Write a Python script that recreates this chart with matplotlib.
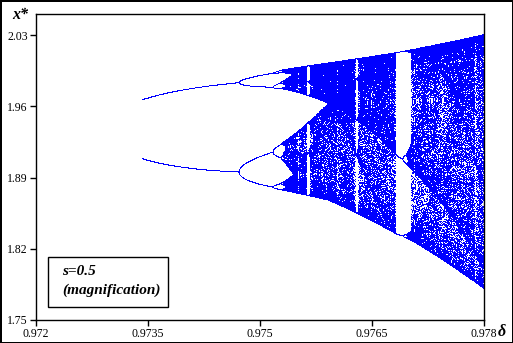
import numpy as np
import matplotlib
matplotlib.use('Agg')
import matplotlib.pyplot as plt
from matplotlib.patches import Rectangle

# landmarks: delta -> equivalent logistic parameter r
delta_marks = [0.97342, 0.97471, 0.97517, 0.97531, 0.97591, 0.97681, 0.97702, 0.978]
r_marks = [3.13, 3.449, 3.544, 3.5699, 3.6786, 3.8284, 3.857, 3.975]
# scale of x* against the logistic variable at the same landmarks
a_marks = [1.7734, 1.8008, 1.8020, 1.8032, 1.8108, 1.7995, 1.7980, 1.7736]
b_marks = [0.2479, 0.2140, 0.2150, 0.2155, 0.2080, 0.2221, 0.2250, 0.2580]

x_ticks = [0.972, 0.9735, 0.975, 0.9765, 0.978]
x_ticklabels = ['0.972', '0.9735', '0.975', '0.9765', '0.978']
y_ticks = [1.75, 1.82, 1.89, 1.96, 2.03]
y_ticklabels = ['1.75', '1.82', '1.89', '1.96', '2.03']

n_cols = 1000
n_skip = 800
n_keep = 160

delta = np.linspace(delta_marks[0], delta_marks[-1], n_cols)
r = np.interp(delta, delta_marks, r_marks)
a = np.interp(delta, delta_marks, a_marks)
b = np.interp(delta, delta_marks, b_marks)

x = np.full(n_cols, 0.4)
for i in range(n_skip):
    x = r * x * (1 - x)
pts_d = []
pts_x = []
for i in range(n_keep):
    x = r * x * (1 - x)
    pts_d.append(delta)
    pts_x.append(a + b * x)
pts_d = np.concatenate(pts_d)
pts_x = np.concatenate(pts_x)

plt.rcParams['font.family'] = ['Liberation Serif', 'DejaVu Serif']
fig = plt.figure(figsize=(5.13, 3.43), dpi=100, linewidth=2, edgecolor='black')
ax = fig.add_axes([0.0702, 0.0671, 0.8733, 0.8921])

ax.plot(pts_d, pts_x, ',', color='#0000ff')

ax.set_xlim(0.972, 0.978)
ax.set_ylim(1.75, 2.0507)
ax.set_xticks(x_ticks)
ax.set_xticklabels(x_ticklabels)
ax.set_yticks(y_ticks)
ax.set_yticklabels(y_ticklabels)
ax.tick_params(direction='out', length=4, width=1, labelsize=8.5, pad=2)
for sp in ax.spines.values():
    sp.set_linewidth(1)

fig.text(20 / 513, 1 - 15 / 343, 'x*', fontsize=11.5, fontweight='bold', style='italic',
         ha='center', va='center')
fig.text(502 / 513, 1 - 332 / 343, 'δ', fontsize=11.5, fontweight='bold', style='italic',
         ha='center', va='center')

ax.add_patch(Rectangle((0.0268, 0.0425), 0.2678, 0.1634, transform=ax.transAxes,
                       fill=False, edgecolor='black', linewidth=1))
ax.text(0.058, 0.157, 's=0.5', transform=ax.transAxes, fontsize=11,
        fontweight='bold', style='italic', va='center')
ax.text(0.058, 0.098, '(magnification)', transform=ax.transAxes, fontsize=11,
        fontweight='bold', style='italic', va='center')

fig.savefig('out.png', dpi=100)
